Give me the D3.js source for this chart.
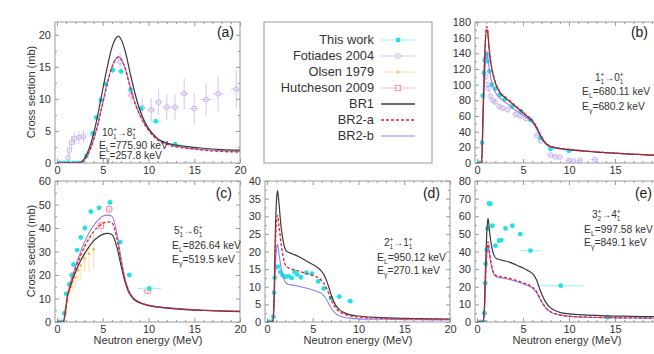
<!DOCTYPE html>
<html>
<head>
<meta charset="utf-8">
<script src="https://cdn.jsdelivr.net/npm/d3@7"></script>
<style>
body { margin: 0; background: #fff; }
svg { display: block; font-family: "Liberation Sans", Arial, sans-serif; }
</style>
</head>
<body>
<script>
// ---- tick values ----
var xTicks = [0, 5, 10, 15, 20];
var yTicksA = [0, 5, 10, 15, 20];
var yTicksB = [0, 20, 40, 60, 80, 100, 120, 140, 160, 180];
var yTicksC = [0, 10, 20, 30, 40, 50, 60];
var yTicksD = [0, 5, 10, 15, 20, 25, 30, 35, 40];
var yTicksE = [0, 10, 20, 30, 40, 50, 60, 70, 80];

// ---- panel (a) 10+ -> 8+ ----
var energyA = [0, 2.0, 2.5, 3.0, 3.5, 4.0, 4.5, 5.0, 5.5, 6.0, 6.4, 6.7, 7.0, 7.5, 8.0, 8.5, 9.0, 9.5, 10, 11, 12, 13, 14, 16, 18, 20];
var br1A  = [0, 0, 0.1, 0.7, 2.2, 4.6, 7.8, 11.5, 15.0, 18.0, 19.4, 19.8, 19.3, 17.2, 14.0, 11.0, 8.5, 6.7, 5.4, 3.8, 3.1, 2.8, 2.6, 2.3, 2.1, 2.0];
var br2aA = [0, 0, 0.05, 0.5, 1.7, 3.6, 6.2, 9.3, 12.4, 14.9, 16.1, 16.5, 16.2, 14.5, 11.8, 9.4, 7.6, 6.2, 5.1, 3.6, 2.9, 2.5, 2.3, 2.0, 1.8, 1.7];
var br2bA = [0, 0, 0.05, 0.5, 1.8, 3.7, 6.3, 9.4, 12.5, 15.0, 16.2, 16.6, 16.3, 14.6, 11.9, 9.5, 7.7, 6.3, 5.2, 3.7, 3.0, 2.6, 2.4, 2.1, 1.9, 1.8];
var thisWorkA = [[0.3, 0, 0.25, 0.1], [0.8, 0, 0.25, 0.1], [1.3, 0, 0.25, 0.1], [1.8, 0, 0.25, 0.1], [2.3, 0, 0.25, 0.1], [2.8, 0, 0.25, 0.1],
  [3.2, 1.1, 0.2, 0.3], [3.9, 4.6, 0.2, 0.4], [4.3, 7.1, 0.2, 0.5], [4.8, 9.8, 0.2, 0.5], [5.35, 12.3, 0.25, 0.6], [6.1, 14.5, 0.3, 0.6],
  [7.0, 14.3, 0.35, 0.6], [8.05, 11.4, 0.4, 0.6], [9.2, 8.5, 0.45, 0.5], [10.8, 6.5, 0.6, 0.5], [12.9, 2.9, 0.7, 0.3]];
var fotiadesA = [[1.2, 0.8, 0.1, 0.8], [1.35, 2.0, 0.1, 0.9], [1.6, 3.2, 0.15, 1.0], [1.9, 3.8, 0.15, 1.0], [2.4, 4.0, 0.25, 1.0], [2.9, 4.1, 0.25, 1.0],
  [6.9, 15.8, 0.3, 1.5], [8.1, 10.6, 0.4, 1.5], [9.3, 8.6, 0.4, 1.6], [10.3, 8.3, 0.4, 1.8], [11.1, 9.5, 0.4, 2.0], [12.0, 8.7, 0.45, 2.0],
  [12.9, 8.7, 0.45, 2.0], [13.9, 10.8, 0.5, 2.4], [15.0, 8.5, 0.5, 2.4], [16.3, 9.9, 0.6, 2.6], [17.6, 10.8, 0.6, 2.8], [19.6, 11.5, 0.6, 3.0]];

// ---- panel (b) 1+ -> 0+ ----
var energyB = [0, 0.5, 0.65, 0.85, 1.05, 1.15, 1.3, 1.5, 1.7, 2.0, 2.3, 2.6, 3.0, 3.5, 4.0, 4.5, 5.0, 5.5, 5.9, 6.3, 6.7, 7.0, 7.4, 7.8, 8.3, 9, 10, 11, 12, 13, 14, 15, 16, 17, 18, 19, 20];
var br1B  = [0, 0, 60, 140, 170, 168, 148, 128, 115, 102, 94, 88, 84, 79, 74, 69, 64, 59, 55, 49, 40, 33, 26, 22, 20, 18.5, 17, 16, 15, 14, 13.3, 12.5, 11.8, 11.2, 10.6, 10.0, 9.5];
var br2aB = [0, 0, 62, 144, 174, 171, 150, 129, 116, 103, 95, 89, 85, 80, 75, 70, 65, 60, 56, 50, 41, 34, 27, 22.5, 20.5, 19, 17.5, 16.3, 15.3, 14.3, 13.5, 12.7, 12, 11.4, 10.8, 10.2, 9.7];
var br2bB = [0, 0, 50, 115, 142, 138, 122, 108, 98, 90, 85, 82, 78, 74, 69, 65, 61, 57, 53, 47, 38, 31, 25, 21, 19.5, 18, 16.5, 15.5, 14.6, 13.8, 13.1, 12.4, 11.7, 11.1, 10.5, 9.9, 9.4];
var thisWorkB = [[0.2, 0, 0.1, 1], [0.4, 0, 0.1, 1], [0.55, 26, 0.05, 3], [0.62, 86, 0.05, 4], [0.75, 115, 0.05, 4], [0.85, 131, 0.05, 4],
  [0.95, 135, 0.05, 4], [1.05, 139, 0.05, 4], [1.15, 130, 0.05, 4], [1.35, 117, 0.05, 4], [1.6, 100, 0.1, 3], [2.0, 95, 0.1, 3],
  [2.5, 87, 0.15, 3], [3.0, 81, 0.15, 3], [3.8, 72, 0.2, 3], [4.8, 66, 0.25, 3], [5.8, 55, 0.3, 3], [6.9, 32, 0.35, 2],
  [8.0, 18, 0.4, 2], [10.0, 15.5, 0.5, 2]];
var fotiadesB = [[0.95, 110, 0.1, 4], [1.1, 100, 0.1, 4], [1.25, 95, 0.1, 4], [1.45, 85, 0.15, 4], [1.7, 80, 0.15, 4], [2.0, 78, 0.15, 4],
  [2.4, 72, 0.2, 4], [2.8, 70, 0.2, 4], [3.3, 68, 0.25, 4], [4.2, 62, 0.25, 4], [4.7, 60, 0.3, 4], [5.3, 57, 0.3, 4],
  [6.5, 35, 0.3, 3], [6.9, 28, 0.3, 3], [8.0, 10, 0.3, 2], [8.5, 8, 0.3, 2], [9.0, 7.5, 0.3, 2], [10.0, 3, 0.3, 2],
  [10.5, 2.5, 0.3, 2], [11.2, 3.5, 0.3, 2], [12.8, 4.5, 0.4, 2]];

// ---- panel (c) 5+ -> 6+ ----
var energyC = [0, 0.7, 0.9, 1.1, 1.4, 1.7, 2.0, 2.5, 3.0, 3.5, 4.0, 4.5, 5.0, 5.5, 6.0, 6.3, 6.6, 7.0, 7.4, 7.8, 8.3, 9, 10, 11, 12, 14, 16, 18, 20];
var br1C  = [0, 0, 4, 10, 14.5, 18, 21, 25.5, 29, 32, 34.5, 36.2, 37.3, 37.7, 37.2, 35, 31, 24, 17.5, 13, 10, 8.2, 7, 6.3, 5.9, 5.3, 4.9, 4.6, 4.4];
var br2aC = [0, 0, 4, 10, 15, 19, 22.5, 27.5, 32, 35.5, 38.5, 40.5, 42, 42.7, 42.2, 39.5, 34.5, 26, 18.5, 13.5, 10.3, 8.4, 7.1, 6.4, 6, 5.4, 5, 4.7, 4.5];
var br2bC = [0, 0, 4, 10, 15.5, 19.5, 23.5, 29, 34, 38, 41, 43.5, 45, 45.5, 45, 42, 36.5, 27, 19, 14, 10.5, 8.5, 7.2, 6.5, 6.1, 5.5, 5.1, 4.8, 4.6];
var thisWorkC = [[0.3, 0, 0.2, 0.3], [0.6, 0, 0.1, 0.3], [0.8, 3.7, 0.05, 0.5], [1.0, 12, 0.05, 1], [1.35, 16, 0.1, 1], [1.6, 20, 0.1, 1],
  [1.8, 24.5, 0.1, 1], [2.2, 30.6, 0.1, 1], [2.6, 36, 0.15, 1.2], [3.05, 40, 0.15, 1.2], [3.7, 47, 0.2, 1.3], [4.6, 48.6, 0.25, 1.3],
  [5.8, 50.9, 0.3, 1.4], [6.9, 34, 0.35, 1], [7.9, 20, 0.4, 0.8], [10.1, 14.3, 1.3, 0.7]];
var olsenC = [[0.9, 5, 0.1, 2], [1.1, 9, 0.1, 3], [1.3, 13, 0.1, 3], [1.5, 15, 0.1, 4], [1.7, 17, 0.1, 4], [2.0, 19, 0.1, 5],
  [2.3, 22, 0.1, 5], [2.6, 24, 0.1, 6], [3.0, 27, 0.1, 6], [3.5, 29, 0.1, 8], [4.0, 31, 0.1, 8]];
var hutchesonC = [[4.8, 41, 0.5, 3], [5.7, 48, 0.5, 3], [9.9, 13.3, 0.5, 1.5]];

// ---- panel (d) 2+ -> 1+ ----
var energyD = [0, 0.6, 0.75, 0.9, 1.05, 1.15, 1.3, 1.5, 1.8, 2.1, 2.5, 3, 3.5, 4, 4.5, 5, 5.5, 5.9, 6.2, 6.5, 6.8, 7.1, 7.5, 8, 8.5, 9, 10, 12, 14, 16, 18, 20];
var br1D  = [0, 0, 5, 24, 35, 37.3, 34, 28, 22.5, 20.2, 19.6, 19.1, 18.5, 17.8, 17.0, 16.3, 15.5, 14.6, 13.5, 11.8, 9.5, 7, 4.8, 3.3, 2.6, 2.1, 1.7, 1.3, 1.1, 1.0, 0.9, 0.85];
var br2aD = [0, 0, 4, 20, 29, 30.2, 27.5, 23, 18, 15.8, 15.2, 14.8, 14.4, 14.0, 13.6, 13.2, 12.7, 12, 11, 9.6, 7.8, 5.8, 4, 2.8, 2.2, 1.8, 1.4, 1.1, 0.95, 0.85, 0.8, 0.75];
var br2bD = [0, 0, 3, 15, 21, 22.1, 19.5, 16, 12.5, 11.0, 10.6, 10.4, 10.1, 9.8, 9.5, 9.1, 8.6, 8.2, 7.5, 6.4, 5.0, 3.6, 2.4, 1.7, 1.3, 1.1, 0.9, 0.8, 0.7, 0.65, 0.6, 0.6];
var thisWorkD = [[0.3, 0, 0.2, 0.2], [0.55, 0, 0.05, 0.2], [0.7, 1.5, 0.05, 0.3], [0.78, 8.3, 0.05, 0.4], [0.85, 12.6, 0.05, 0.5],
  [1.0, 15.5, 0.05, 0.5], [1.2, 15.7, 0.05, 0.5], [1.45, 14.2, 0.1, 0.5], [1.7, 13.3, 0.1, 0.5], [2.0, 12.8, 0.1, 0.5],
  [2.35, 13.0, 0.15, 0.5], [2.7, 12.5, 0.15, 0.5], [3.0, 14.2, 0.15, 0.5], [3.3, 13.5, 0.15, 0.5], [3.7, 12.7, 0.2, 0.5],
  [4.3, 14, 0.2, 0.5], [4.9, 13.7, 0.25, 0.5], [5.6, 11.5, 0.3, 0.5], [6.2, 9.5, 0.3, 0.5], [7.0, 6.8, 0.35, 0.4],
  [7.9, 7.2, 0.4, 0.4], [9.1, 5.9, 0.5, 0.4]];

// ---- panel (e) 3+ -> 4+ ----
var energyE = [0, 0.65, 0.8, 0.95, 1.1, 1.2, 1.35, 1.55, 1.8, 2.1, 2.5, 3, 3.5, 4, 4.5, 5, 5.5, 5.9, 6.2, 6.5, 6.8, 7.1, 7.5, 8, 8.5, 9, 10, 12, 14, 16, 18, 20];
var br1E  = [0, 0, 8, 35, 54, 58.8, 52, 44, 38.5, 36, 35.3, 34.7, 34.0, 33, 31.8, 30.6, 29.3, 28, 26.5, 23.5, 19, 15, 11, 8, 6.5, 5.5, 4.6, 3.9, 3.5, 3.3, 3.1, 3.0];
var br2aE = [0, 0, 6, 28, 43, 45.5, 40, 33, 28, 26.3, 25.8, 25.3, 24.7, 24, 23.2, 22.3, 21.3, 20.2, 19, 17, 14, 11, 8, 5.8, 4.7, 4, 3.3, 2.8, 2.5, 2.4, 2.3, 2.2];
var br2bE = [0, 0, 6, 27, 41, 44, 38.5, 32, 27.3, 25.6, 25.2, 24.7, 24.1, 23.4, 22.6, 21.7, 20.7, 19.6, 18.4, 16.4, 13.5, 10.6, 7.7, 5.6, 4.5, 3.9, 3.2, 2.7, 2.4, 2.3, 2.2, 2.1];
var thisWorkE = [[0.4, 0, 0.2, 0.3], [0.76, 0, 0.05, 0.3], [0.8, 5, 0.05, 1], [0.9, 22, 0.05, 1], [0.95, 33, 0.05, 1],
  [1.05, 41, 0.05, 1], [1.15, 53, 0.05, 1], [1.3, 67.3, 0.05, 1.2], [1.45, 67, 0.05, 1.2], [1.67, 54.6, 0.08, 1],
  [2.0, 43.3, 0.1, 1], [2.4, 46.1, 0.1, 1], [2.65, 46.5, 0.1, 1], [3.1, 53.1, 0.15, 1], [3.85, 54.6, 0.2, 1],
  [4.7, 49.9, 0.25, 1], [5.8, 40.5, 1.2, 1], [9.1, 20.6, 2.6, 1], [14.2, 2.7, 0.5, 0.5]];

// ---- legend ----
var legendNames = ["This work", "Fotiades 2004", "Olsen 1979", "Hutcheson 2009", "BR1", "BR2-a", "BR2-b"];

var sty = {
    thisWork: { color: "#22e0e6", bar: "#9af2f4" },
    fotiades: { color: "#c2a2ec", bar: "#d9c6f3" },
    olsen: { color: "#f2c060", bar: "#f8e2b4" },
    hutcheson: { color: "#f0909e", bar: "#f6c2ca" },
    br1: "#3a3a3a",
    br2a: "#e8202a",
    br2b: "#8c80f2"
};

var svg = d3.select("body").append("svg")
    .attr("width", 654)
    .attr("height", 354);

var panels = [
    { id: "a", left: 55, right: 240, top: 22, bottom: 163, ymax: 22, yTicks: yTicksA,
      E: energyA, br1: br1A, br2a: br2aA, br2b: br2bA, thisWork: thisWorkA, fotiades: fotiadesA,
      label: [234, 37], trans: [["10", "+", "1"], ["8", "+", "1"]], tx: 102, ty: [136, 149, 159],
      el: "775.90", eg: "257.8", ex: 99 },
    { id: "b", left: 475, right: 661, top: 22, bottom: 163, ymax: 180, yTicks: yTicksB,
      E: energyB, br1: br1B, br2a: br2aB, br2b: br2bB, thisWork: thisWorkB, fotiades: fotiadesB,
      label: [648, 37], trans: [["1", "+", "1"], ["0", "+", "1"]], tx: 595, ty: [81, 95, 110],
      el: "680.11", eg: "680.2", ex: 582 },
    { id: "c", left: 55, right: 240, top: 181, bottom: 322, ymax: 60, yTicks: yTicksC,
      E: energyC, br1: br1C, br2a: br2aC, br2b: br2bC, thisWork: thisWorkC, olsen: olsenC, hutcheson: hutchesonC,
      label: [232, 198], trans: [["5", "+", "1"], ["6", "+", "1"]], tx: 174, ty: [234, 249, 263],
      el: "826.64", eg: "519.5", ex: 172 },
    { id: "d", left: 265, right: 450, top: 181, bottom: 322, ymax: 40, yTicks: yTicksD,
      E: energyD, br1: br1D, br2a: br2aD, br2b: br2bD, thisWork: thisWorkD,
      label: [440, 198], trans: [["2", "+", "1"], ["1", "+", "1"]], tx: 384, ty: [246, 261, 274],
      el: "950.12", eg: "270.1", ex: 377 },
    { id: "e", left: 475, right: 661, top: 181, bottom: 322, ymax: 80, yTicks: yTicksE,
      E: energyE, br1: br1E, br2a: br2aE, br2b: br2bE, thisWork: thisWorkE,
      label: [652, 198], trans: [["3", "+", "2"], ["4", "+", "1"]], tx: 592, ty: [218, 233, 246],
      el: "997.58", eg: "849.1", ex: 584 }
];

function errorPoints(g, pts, x, y, s, shape) {
    var grp = g.append("g");
    pts.forEach(function (d) {
        grp.append("line")
            .attr("x1", x(d[0] - d[2])).attr("x2", x(d[0] + d[2]))
            .attr("y1", y(d[1])).attr("y2", y(d[1]))
            .attr("stroke", s.bar).attr("stroke-width", 1);
        grp.append("line")
            .attr("x1", x(d[0])).attr("x2", x(d[0]))
            .attr("y1", y(Math.max(0, d[1] - d[3]))).attr("y2", y(d[1] + d[3]))
            .attr("stroke", s.bar).attr("stroke-width", 1);
    });
    pts.forEach(function (d) {
        marker(grp, shape, x(d[0]), y(d[1]), s);
    });
}

function marker(grp, shape, cx, cy, s) {
    if (shape == "dot") {
        grp.append("circle").attr("cx", cx).attr("cy", cy).attr("r", 2.4).attr("fill", s.color);
    } else if (shape == "ring") {
        grp.append("circle").attr("cx", cx).attr("cy", cy).attr("r", 2.4)
            .attr("fill", "none").attr("stroke", s.color).attr("stroke-width", 0.8);
    } else if (shape == "small") {
        grp.append("circle").attr("cx", cx).attr("cy", cy).attr("r", 1.5).attr("fill", s.color);
    } else {
        grp.append("rect").attr("x", cx - 2.6).attr("y", cy - 2.6).attr("width", 5.2).attr("height", 5.2)
            .attr("fill", "none").attr("stroke", s.color).attr("stroke-width", 0.9);
    }
}

function transition(t, parts) {
    parts.forEach(function (p, i) {
        if (i > 0) t.append("tspan").attr("dy", -3).text("\u2192");
        t.append("tspan").text(p[0]);
        t.append("tspan").attr("font-size", 6.5).attr("dy", -4).text(p[1]);
        t.append("tspan").attr("font-size", 6.5).attr("dx", -3.8).attr("dy", 7).text(p[2]);
    });
}

function drawPanel(p) {
    var x = d3.scaleLinear().domain([0, 20]).range([p.left + 2, p.right]);
    var y = d3.scaleLinear().domain([0, p.ymax]).range([p.bottom, p.top]);
    var g = svg.append("g");

    g.append("clipPath").attr("id", "clip-" + p.id)
        .append("rect")
        .attr("x", p.left).attr("y", p.top)
        .attr("width", p.right - p.left).attr("height", p.bottom - p.top);

    var minorX = d3.range(0, 20.01, 1).filter(function (v) { return v % 5 != 0; });
    var step = p.yTicks[1] - p.yTicks[0];
    var minorY = d3.range(step / 2, p.ymax, step);

    function styleAxis(a) {
        a.attr("font-family", null).attr("font-size", 11).attr("color", "#9a9a9a");
        a.select(".domain").remove();
        a.selectAll("text").attr("fill", "#333");
    }

    g.append("g").attr("transform", "translate(0," + p.bottom + ")")
        .call(d3.axisBottom(x).tickValues(xTicks).tickSize(-4).tickPadding(3))
        .call(styleAxis);
    g.append("g").attr("transform", "translate(0," + p.top + ")")
        .call(d3.axisTop(x).tickValues(xTicks).tickSize(-4).tickFormat(""))
        .call(styleAxis);
    g.append("g").attr("transform", "translate(" + p.left + ",0)")
        .call(d3.axisLeft(y).tickValues(p.yTicks).tickSize(-4).tickPadding(4))
        .call(styleAxis);
    g.append("g").attr("transform", "translate(" + p.right + ",0)")
        .call(d3.axisRight(y).tickValues(p.yTicks).tickSize(-4).tickFormat(""))
        .call(styleAxis);
    // minor ticks
    g.append("g").attr("transform", "translate(0," + p.bottom + ")")
        .call(d3.axisBottom(x).tickValues(minorX).tickSize(-2).tickFormat("")).call(styleAxis);
    g.append("g").attr("transform", "translate(0," + p.top + ")")
        .call(d3.axisTop(x).tickValues(minorX).tickSize(-2).tickFormat("")).call(styleAxis);
    g.append("g").attr("transform", "translate(" + p.left + ",0)")
        .call(d3.axisLeft(y).tickValues(minorY).tickSize(-2).tickFormat("")).call(styleAxis);
    g.append("g").attr("transform", "translate(" + p.right + ",0)")
        .call(d3.axisRight(y).tickValues(minorY).tickSize(-2).tickFormat("")).call(styleAxis);

    g.append("rect")
        .attr("x", p.left).attr("y", p.top)
        .attr("width", p.right - p.left).attr("height", p.bottom - p.top)
        .attr("fill", "none").attr("stroke", "#9a9a9a").attr("stroke-width", 1);

    var plot = g.append("g").attr("clip-path", "url(#clip-" + p.id + ")");

    if (p.olsen) errorPoints(plot, p.olsen, x, y, sty.olsen, "small");
    if (p.fotiades) errorPoints(plot, p.fotiades, x, y, sty.fotiades, "ring");
    if (p.hutcheson) errorPoints(plot, p.hutcheson, x, y, sty.hutcheson, "square");
    errorPoints(plot, p.thisWork, x, y, sty.thisWork, "dot");

    var line = d3.line()
        .x(function (d) { return x(d[0]); })
        .y(function (d) { return y(d[1]); })
        .curve(d3.curveMonotoneX);

    function curve(vals, color, width, dash) {
        plot.append("path")
            .datum(p.E.map(function (e, i) { return [e, vals[i]]; }))
            .attr("d", line)
            .attr("fill", "none")
            .attr("stroke", color)
            .attr("stroke-width", width)
            .attr("stroke-dasharray", dash);
    }
    curve(p.br2b, sty.br2b, 1.1, null);
    curve(p.br1, sty.br1, 1.2, null);
    curve(p.br2a, sty.br2a, 1.3, "3,2");

    // panel label
    g.append("text").attr("x", p.label[0]).attr("y", p.label[1])
        .attr("text-anchor", "end").attr("font-size", 14).attr("fill", "#222")
        .text("(" + p.id + ")");

    // level annotation
    var t1 = g.append("text").attr("x", p.tx).attr("y", p.ty[0])
        .attr("font-size", 10).attr("fill", "#333");
    transition(t1, p.trans);
    var t2 = g.append("text").attr("x", p.ex).attr("y", p.ty[1])
        .attr("font-size", 10.3).attr("fill", "#333");
    t2.append("tspan").text("E");
    t2.append("tspan").attr("font-size", 7).attr("dy", 3).text("L");
    t2.append("tspan").attr("dy", -3).text("=" + p.el + " keV");
    var t3 = g.append("text").attr("x", p.ex).attr("y", p.ty[2])
        .attr("font-size", 10.3).attr("fill", "#333");
    t3.append("tspan").text("E");
    t3.append("tspan").attr("font-size", 7).attr("dy", 3).text("\u03b3");
    t3.append("tspan").attr("dy", -3).text("=" + p.eg + " keV");
}

panels.forEach(drawPanel);

// axis titles
[[31, 92], [31, 251]].forEach(function (c) {
    svg.append("text")
        .attr("transform", "translate(" + c[0] + "," + c[1] + ") rotate(-90)")
        .attr("text-anchor", "middle").attr("dy", "0.35em")
        .attr("font-size", 11).attr("fill", "#333")
        .text("Cross section (mb)");
});
[148, 358, 567].forEach(function (cx) {
    svg.append("text")
        .attr("x", cx).attr("y", 344)
        .attr("text-anchor", "middle")
        .attr("font-size", 11).attr("fill", "#333")
        .text("Neutron energy (MeV)");
});

// legend
var lg = svg.append("g");
lg.append("rect").attr("x", 264).attr("y", 22).attr("width", 168).attr("height", 141)
    .attr("fill", "#fff").attr("stroke", "#9a9a9a").attr("stroke-width", 1);
var legendStyles = [
    { s: sty.thisWork, shape: "dot" },
    { s: sty.fotiades, shape: "ring" },
    { s: sty.olsen, shape: "small" },
    { s: sty.hutcheson, shape: "square" },
    { line: sty.br1, w: 1.3 },
    { line: sty.br2a, w: 1.3, dash: "3,2" },
    { line: sty.br2b, w: 1.1 }
];
legendNames.forEach(function (name, i) {
    var cy = 40 + i * 16;
    lg.append("text").attr("x", 374).attr("y", cy).attr("dy", "0.35em")
        .attr("text-anchor", "end").attr("font-size", 12.8).attr("fill", "#333")
        .text(name);
    var st = legendStyles[i];
    if (st.line) {
        lg.append("line").attr("x1", 381).attr("x2", 415).attr("y1", cy).attr("y2", cy)
            .attr("stroke", st.line).attr("stroke-width", st.w).attr("stroke-dasharray", st.dash || null);
    } else {
        lg.append("line").attr("x1", 381).attr("x2", 415).attr("y1", cy).attr("y2", cy)
            .attr("stroke", st.s.bar).attr("stroke-width", 1);
        marker(lg, st.shape, 398, cy, st.s);
    }
});
</script>
</body>
</html>
